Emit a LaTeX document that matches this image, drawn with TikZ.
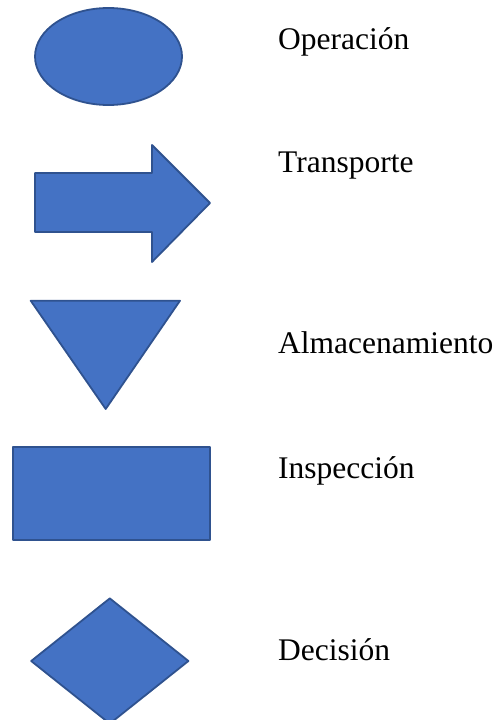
\documentclass[tikz,border=0pt]{standalone}
\usepackage{fontspec}
\setmainfont{Liberation Serif}
\usetikzlibrary{shapes.geometric}

\definecolor{symfill}{HTML}{4472C4}
\definecolor{symline}{HTML}{2F528F}

\begin{document}
\begin{tikzpicture}[x=1pt,y=-1pt,
                    every path/.style={line join=round},
                    sym/.style={draw=symline,fill=symfill,line width=1.8pt,inner sep=0pt},
                    lbl/.style={anchor=base west,inner sep=0pt,font=\fontsize{31.5}{36}\selectfont}]
  \useasboundingbox (0,0) rectangle (498,720);
  % simbolos
  \node[sym,ellipse,minimum width=147,minimum height=97]   (op)  at (108.5,56.5) {};
  \draw[sym] (35,173) -- (152,173) -- (152,145) -- (210,203) -- (152,262)
             -- (152,232) -- (35,232) -- cycle;
  \draw[sym] (30.7,300.7) -- (180,300.7) -- (105.7,409) -- cycle;
  \node[sym,rectangle,minimum width=197,minimum height=93] (ins) at (111.4,493.5) {};
  \node[sym,diamond,minimum width=158,minimum height=126] (dec) at (109.8,661) {};
  % etiquetas
  \node[lbl] (top) at (278,49)  {Operación};
  \node[lbl] (ttr) at (278,172) {Transporte};
  \node[lbl] (tal) at (278,353) {Almacenamiento};
  \node[lbl] (tin) at (278,478) {Inspección};
  \node[lbl] (tde) at (278,660) {Decisión};
\end{tikzpicture}
\end{document}
